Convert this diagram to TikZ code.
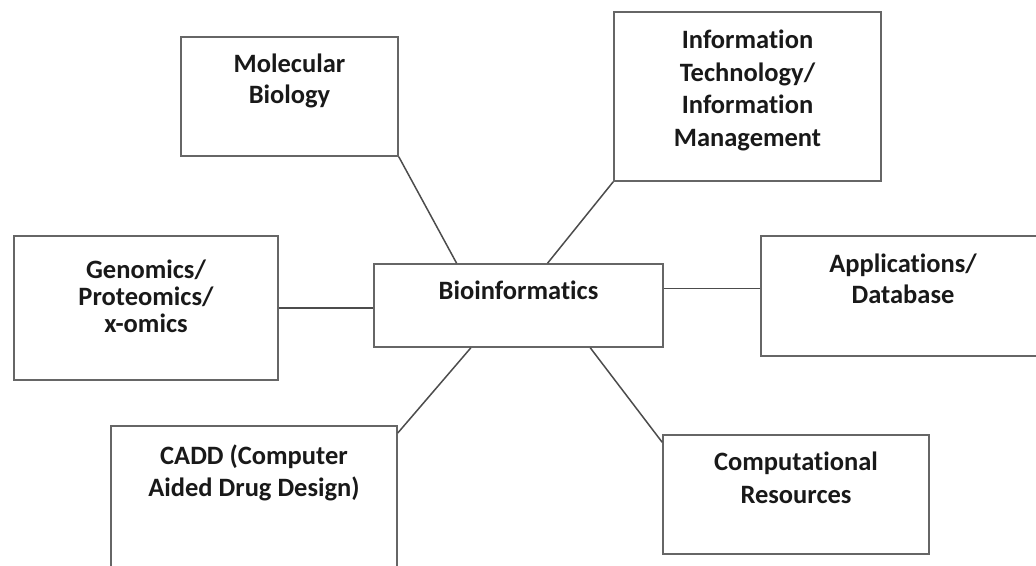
\documentclass[tikz,border=0pt]{standalone}
\usepackage{fontspec}
\setmainfont{Carlito}[Ligatures=NoCommon]
\usetikzlibrary{positioning}
\tikzstyle{topic} = [rectangle, draw=black!60, line width=1.6pt, inner sep=0pt]
\tikzstyle{topictext} = [align=center, inner sep=0pt, text=black!90, font=\fontsize{26.5}{31}\selectfont\bfseries]
\tikzstyle{link} = [draw=black!70, line width=1.5pt]

\begin{document}
\begin{tikzpicture}[x=1pt, y=-1pt]
	\useasboundingbox (0,0) rectangle (1036,565);
	\node (Bio) [topic, minimum width=289pt, minimum height=83pt] at (518.5,305.5) {};
	\node (MolBio) [topic, minimum width=217pt, minimum height=119pt] at (289.5,96.5) {};
	\node (InfoTech) [topic, minimum width=267pt, minimum height=169pt] at (747.5,96.5) {};
	\node (Omics) [topic, minimum width=264pt, minimum height=144pt] at (146,308) {};
	\node (Apps) [topic, minimum width=284pt, minimum height=120pt] at (903,296) {};
	\node (Cadd) [topic, minimum width=286pt, minimum height=154pt] at (254,503) {};
	\node (Compute) [topic, minimum width=266pt, minimum height=119pt] at (796,494.5) {};
	\node (BioText) [topictext, below = 18pt of Bio.north] {Bioinformatics};
	\node (MolBioText) [topictext, below = 18pt of MolBio.north] {Molecular\\Biology};
	\node (InfoTechText) [topictext, below = 19pt of InfoTech.north, font=\fontsize{26.5}{32.5}\selectfont\bfseries] {Information\\Technology/\\Information\\Management};
	\node (OmicsText) [topictext, below = 25pt of Omics.north, font=\fontsize{26.5}{27}\selectfont\bfseries] {Genomics/\\Proteomics/\\x-omics};
	\node (AppsText) [topictext, below = 19pt of Apps.north] {Applications/\\Database};
	\node (CaddText) [topictext, below = 19pt of Cadd.north, font=\fontsize{26.5}{32}\selectfont\bfseries] {CADD (Computer\\Aided Drug Design)};
	\node (ComputeText) [topictext, below = 17pt of Compute.north, font=\fontsize{26.5}{33}\selectfont\bfseries] {Computational\\Resources};
	\path (Bio.north west) -- (Bio.north east) coordinate[pos=0.287] (BioTop1);
	\path (Bio.north west) -- (Bio.north east) coordinate[pos=0.6] (BioTop2);
	\path (Bio.south west) -- (Bio.south east) coordinate[pos=0.336] (BioBottom1);
	\path (Bio.south west) -- (Bio.south east) coordinate[pos=0.747] (BioBottom2);
	\path (Bio.north east) -- (Bio.south east) coordinate[pos=0.3] (BioRight);
	\path (Cadd.north east) -- (Cadd.south east) coordinate[pos=0.05] (CaddCorner);
	\path (Compute.north west) -- (Compute.south west) coordinate[pos=0.067] (ComputeCorner);
	\draw [link] (MolBio.south east) -- (BioTop1);
	\draw [link] (InfoTech.south west) -- (BioTop2);
	\draw [link] (Omics.east) -- (Omics.east -| Bio.west);
	\draw [link] (BioRight) -- (BioRight -| Apps.west);
	\draw [link] (BioBottom1) -- (CaddCorner);
	\draw [link] (BioBottom2) -- (ComputeCorner);
	
\end{tikzpicture}
\end{document}
